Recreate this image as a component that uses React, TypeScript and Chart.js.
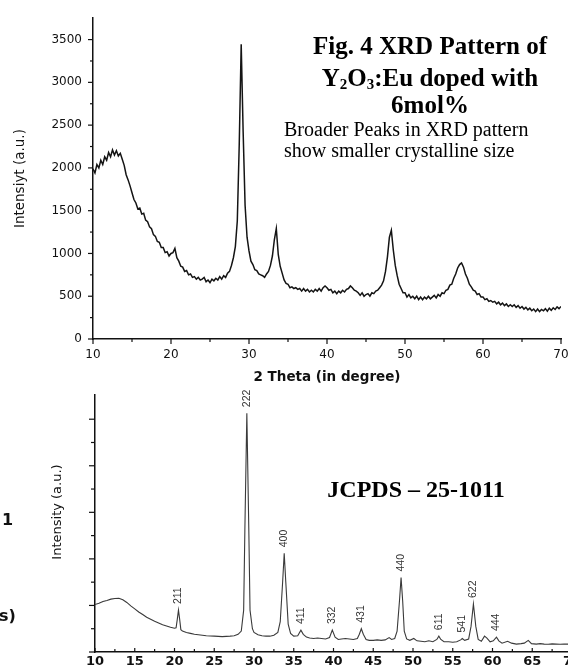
import { useEffect, useRef } from 'react';
import { Chart, registerables } from 'chart.js';
Chart.register(...registerables);

const SANS = '"DejaVu Sans", "Liberation Sans", sans-serif';
const SERIF = '"Liberation Serif", "Times New Roman", serif';
const ARIAL = '"Liberation Sans", Arial, sans-serif';

// ---------- Top chart: measured XRD pattern (Y2O3:Eu, 6 mol%) ----------
const topTheta = [
  10,10.25,10.5,10.75,11,11.25,11.5,11.75,12,12.25,12.5,12.75,13,13.25,13.5,13.75,14,14.25,14.5,14.75,
  15,15.25,15.5,15.75,16,16.25,16.5,16.75,17,17.25,17.5,17.75,18,18.25,18.5,18.75,19,19.25,19.5,19.75,
  20,20.25,20.5,20.75,21,21.25,21.5,21.75,22,22.25,22.5,22.75,23,23.25,23.5,23.75,24,24.25,24.5,24.75,
  25,25.25,25.5,25.75,26,26.25,26.5,26.75,27,27.25,27.5,27.75,28,28.25,28.5,28.75,29,29.25,29.5,29.75,
  30,30.25,30.5,30.75,31,31.25,31.5,31.75,32,32.25,32.5,32.75,33,33.25,33.5,33.75,34,34.25,34.5,34.75,
  35,35.25,35.5,35.75,36,36.25,36.5,36.75,37,37.25,37.5,37.75,38,38.25,38.5,38.75,39,39.25,39.5,39.75,
  40,40.25,40.5,40.75,41,41.25,41.5,41.75,42,42.25,42.5,42.75,43,43.25,43.5,43.75,44,44.25,44.5,44.75,
  45,45.25,45.5,45.75,46,46.25,46.5,46.75,47,47.25,47.5,47.75,48,48.25,48.5,48.75,49,49.25,49.5,49.75,
  50,50.25,50.5,50.75,51,51.25,51.5,51.75,52,52.25,52.5,52.75,53,53.25,53.5,53.75,54,54.25,54.5,54.75,
  55,55.25,55.5,55.75,56,56.25,56.5,56.75,57,57.25,57.5,57.75,58,58.25,58.5,58.75,59,59.25,59.5,59.75,
  60,60.25,60.5,60.75,61,61.25,61.5,61.75,62,62.25,62.5,62.75,63,63.25,63.5,63.75,64,64.25,64.5,64.75,
  65,65.25,65.5,65.75,66,66.25,66.5,66.75,67,67.25,67.5,67.75,68,68.25,68.5,68.75,69,69.25,69.5,69.75,
  70
];
const topIntensity = [
  1990,1940,2040,2000, 2090,2040,2130,2090, 2180,2130,2210,2150, 2200,2140,2170,2100, 2030,1920,1860,1790,
  1710,1630,1590,1520, 1530,1460,1470,1390, 1370,1310,1290,1220, 1200,1140,1130,1070, 1070,1010,1020,970,
  1000,1010,1060,950, 910,850,840,790, 800,750,760,720, 730,700,720,690, 700,720,670,690,
  660,700,680,710, 690,730,700,740, 720,770,790,860, 950,1080,1380,2280, 3445,2420,1560,1190,
  1030,910,870,810, 800,760,750,740, 720,760,790,860, 970,1160,1290,990, 850,770,690,650,
  640,600,610,590, 600,580,590,560, 590,560,580,550, 570,550,580,560, 590,560,600,620,
  600,570,580,540, 560,530,560,540, 570,550,580,590, 620,600,570,560, 540,510,540,500,
  520,530,500,540, 530,560,570,600, 630,680,790,960, 1190,1270,1040,860, 740,640,590,540,
  540,490,520,480, 500,470,500,460, 490,460,490,470, 500,470,490,510, 480,520,500,540,
  530,570,580,630, 640,710,760,830, 870,890,840,760, 710,640,610,570, 560,520,530,490,
  490,460,470,440, 450,430,440,410, 430,400,420,390, 410,380,400,380, 400,370,390,360,
  380,350,370,340, 360,330,350,320, 350,320,345,330, 355,325,360,335, 365,345,375,355,
  380
];
const topXTicks = [10, 20, 30, 40, 50, 60, 70];
const topXMinor = [15, 25, 35, 45, 55, 65];
const topYTicks = [0, 500, 1000, 1500, 2000, 2500, 3000, 3500];
const topYMinor = [250, 750, 1250, 1750, 2250, 2750, 3250];

// ---------- Bottom chart: JCPDS 25-1011 reference pattern ----------
const refTheta = [
  10,10.5,11,11.5,12,12.5,13,13.5,14,14.5,15,15.5,16,16.5,17,17.5,18,18.5,19,19.5,
  20,20.2,20.35,20.5,20.65,20.8,21,21.5,22,22.5,23,23.5,24,25,26,27,27.5,28,28.4,28.7,
  28.85,29.1,29.35,29.5,29.8,30,30.5,31,31.5,32,32.5,33,33.3,33.6,33.8,34,34.3,34.6,35,35.5,
  35.9,36.2,36.6,37,37.5,38,38.5,39,39.5,39.85,40.2,40.6,41,41.5,42,42.5,43,43.25,43.5,43.75,
  44.1,44.5,45,45.5,46,46.5,47,47.3,47.7,48,48.3,48.5,48.7,48.9,49.2,49.6,50.1,50.5,51,51.5,
  52,52.5,53,53.25,53.5,53.9,54.5,55,55.5,56,56.2,56.5,57,57.3,57.6,57.9,58.2,58.6,59,59.3,
  59.7,60.1,60.5,60.8,61.2,61.9,62.4,63,63.6,64,64.5,64.9,65.5,66,66.5,67,67.5,68,68.5,69,
  69.5,70
];
const refIntensity = [
  1020,1045,1085,1105,1135,1150,1155,1120,1065,990,925,860,805,745,705,660,625,585,560,530,
  510,520,700,900,700,480,450,420,400,380,370,360,350,340,330,340,350,380,450,900,
  2600,5130,2600,900,500,420,370,350,340,340,360,420,650,1500,2120,1500,600,400,340,350,
  470,380,320,300,290,300,290,280,310,470,320,270,280,290,280,270,290,380,500,380,
  270,250,250,260,250,260,310,270,290,450,1100,1600,1100,450,280,250,290,240,230,220,
  240,220,270,340,270,220,220,210,220,260,290,250,280,550,1030,550,270,230,340,300,
  220,240,320,240,190,230,190,170,180,190,250,180,170,180,170,165,175,170,165,170,
  170,175
];
const hklLabels = ['211', '222', '400', '411', '332', '431', '440', '611', '541', '622', '444'];
const hklTheta = [20.5, 29.1, 33.8, 35.9, 39.85, 43.5, 48.5, 53.25, 56.2, 57.6, 60.5];
const botXTicks = [10, 15, 20, 25, 30, 35, 40, 45, 50, 55, 60, 65, 70];
const botXMinor = [12.5, 17.5, 22.5, 27.5, 32.5, 37.5, 42.5, 47.5, 52.5, 57.5, 62.5, 67.5];
const botYMajor = [0, 1000, 2000, 3000, 4000, 5000];
const botYMinor = [500, 1500, 2500, 3500, 4500];

type TickCfg = { major: number[]; minor: number[]; majorLen: number; minorLen: number; dir: number };

function makeTickPlugin(id: string, xc: TickCfg, yc: TickCfg) {
  return {
    id,
    afterDraw(chart: any) {
      const ctx = chart.ctx;
      ctx.save();
      ctx.strokeStyle = '#111';
      ctx.lineWidth = 1.2;
      const xs = chart.scales.x;
      const ys = chart.scales.y;
      const drawX = (vals: number[], len: number) => vals.forEach((v) => {
        const p = xs.getPixelForValue(v);
        ctx.beginPath();
        ctx.moveTo(p, xs.top);
        ctx.lineTo(p, xs.top + xc.dir * len);
        ctx.stroke();
      });
      const drawY = (vals: number[], len: number) => vals.forEach((v) => {
        const p = ys.getPixelForValue(v);
        ctx.beginPath();
        ctx.moveTo(ys.right, p);
        ctx.lineTo(ys.right - yc.dir * len, p);
        ctx.stroke();
      });
      drawX(xc.major, xc.majorLen);
      drawX(xc.minor, xc.minorLen);
      drawY(yc.major, yc.majorLen);
      drawY(yc.minor, yc.minorLen);
      ctx.restore();
    },
  };
}

const topTextPlugin = {
  id: 'topText',
  afterDraw(chart: any) {
    const ctx = chart.ctx;
    ctx.save();
    ctx.fillStyle = '#000';
    ctx.textBaseline = 'alphabetic';
    const cx = 430;
    const big = `bold 25px ${SERIF}`;
    const sub = `bold 15px ${SERIF}`;
    ctx.font = big;
    ctx.textAlign = 'center';
    ctx.fillText('Fig. 4 XRD Pattern of', cx, 54);
    const segs = [
      { t: 'Y', f: big, dy: 0 },
      { t: '2', f: sub, dy: 3 },
      { t: 'O', f: big, dy: 0 },
      { t: '3', f: sub, dy: 3 },
      { t: ':Eu doped with', f: big, dy: 0 },
    ];
    let total = 0;
    segs.forEach((s) => { ctx.font = s.f; total += ctx.measureText(s.t).width; });
    let x = cx - total / 2;
    ctx.textAlign = 'left';
    segs.forEach((s) => {
      ctx.font = s.f;
      ctx.fillText(s.t, x, 86 + s.dy);
      x += ctx.measureText(s.t).width;
    });
    ctx.font = big;
    ctx.textAlign = 'center';
    ctx.fillText('6mol%', cx, 113);
    ctx.font = `20px ${SERIF}`;
    ctx.textAlign = 'left';
    ctx.fillText('Broader Peaks in XRD pattern', 284, 136);
    ctx.fillText('show smaller crystalline size', 284, 157);
    ctx.restore();
  },
};

const botTextPlugin = {
  id: 'botText',
  afterDraw(chart: any) {
    const ctx = chart.ctx;
    const xs = chart.scales.x;
    const ys = chart.scales.y;
    ctx.save();
    ctx.fillStyle = '#333';
    ctx.font = `10.5px ${ARIAL}`;
    ctx.textAlign = 'left';
    ctx.textBaseline = 'middle';
    hklLabels.forEach((lab, i) => {
      const t = hklTheta[i];
      let peak = 0;
      refTheta.forEach((th, j) => { if (Math.abs(th - t) <= 0.3 && refIntensity[j] > peak) peak = refIntensity[j]; });
      const px = xs.getPixelForValue(t);
      const py = ys.getPixelForValue(peak);
      ctx.save();
      ctx.translate(px, py);
      ctx.rotate(-Math.PI / 2);
      ctx.fillText(lab, 6, 0);
      ctx.restore();
    });
    ctx.fillStyle = '#000';
    ctx.font = `bold 24px ${SERIF}`;
    ctx.textAlign = 'center';
    ctx.textBaseline = 'alphabetic';
    ctx.fillText('JCPDS \u2013 25-1011', 416, 117);
    ctx.fillStyle = '#111';
    ctx.font = `13px ${SANS}`;
    ctx.save();
    ctx.translate(58, 132);
    ctx.rotate(-Math.PI / 2);
    ctx.textBaseline = 'middle';
    ctx.fillText('Intensity (a.u.)', 0, 0);
    ctx.restore();
    ctx.font = `bold 16px ${SANS}`;
    ctx.textAlign = 'left';
    ctx.fillText('1', 2, 145);
    ctx.fillText('s)', -1, 241);
    ctx.restore();
  },
};

export default function App() {
  const topRef = useRef<HTMLCanvasElement>(null);
  const botRef = useRef<HTMLCanvasElement>(null);

  useEffect(() => {
    const top = new Chart(topRef.current as HTMLCanvasElement, {
      type: 'line',
      data: {
        datasets: [{
          data: topTheta.map((x, i) => ({ x, y: topIntensity[i] })),
          borderColor: '#141414',
          borderWidth: 1.5,
          pointRadius: 0,
          tension: 0,
          fill: false,
        }],
      },
      options: {
        responsive: false,
        animation: false,
        events: [],
        layout: { padding: { left: 0, right: 19, top: 14, bottom: 0 } },
        plugins: { legend: { display: false }, tooltip: { enabled: false } },
        scales: {
          x: {
            type: 'linear',
            min: 10,
            max: 70,
            afterFit: (s: any) => { s.height = 51; },
            afterBuildTicks: (s: any) => { s.ticks = topXTicks.map((v) => ({ value: v })); },
            grid: { display: false, drawTicks: false },
            border: { display: true, color: '#111', width: 1.5 },
            ticks: {
              autoSkip: false, maxRotation: 0, padding: 9, color: '#111',
              font: { family: SANS, size: 12 },
              callback: (v: any) => String(v),
            },
            title: {
              display: true, text: '2 Theta (in degree)', color: '#111',
              font: { family: SANS, size: 13.5, weight: 'bold' }, padding: { top: 0, bottom: 4 },
            },
          },
          y: {
            type: 'linear',
            min: 0,
            max: 3750,
            afterFit: (s: any) => { s.width = 93; },
            afterBuildTicks: (s: any) => { s.ticks = topYTicks.map((v) => ({ value: v })); },
            grid: { display: false, drawTicks: false },
            border: { display: true, color: '#111', width: 1.5 },
            ticks: {
              autoSkip: false, padding: 11, color: '#111',
              font: { family: SANS, size: 12 },
              callback: (v: any) => String(v),
            },
            title: {
              display: true, text: 'Intensiyt (a.u.)', color: '#111',
              font: { family: SANS, size: 13.5 }, padding: { top: 12, bottom: 0 },
            },
          },
        },
      },
      plugins: [
        makeTickPlugin('topTicks',
          { major: topXTicks, minor: topXMinor, majorLen: 5, minorLen: 3, dir: 1 },
          { major: topYTicks, minor: topYMinor, majorLen: 5, minorLen: 3, dir: 1 }),
        topTextPlugin,
      ],
    } as any);

    const bot = new Chart(botRef.current as HTMLCanvasElement, {
      type: 'line',
      data: {
        datasets: [{
          data: refTheta.map((x, i) => ({ x, y: refIntensity[i] })),
          borderColor: '#3a3a3a',
          borderWidth: 1.1,
          pointRadius: 0,
          tension: 0,
          fill: false,
        }],
      },
      options: {
        responsive: false,
        animation: false,
        events: [],
        layout: { padding: { left: 0, right: 18, top: 15, bottom: 0 } },
        plugins: { legend: { display: false }, tooltip: { enabled: false } },
        scales: {
          x: {
            type: 'linear',
            min: 10,
            max: 70,
            afterFit: (s: any) => { s.height = 18; },
            afterBuildTicks: (s: any) => { s.ticks = botXTicks.map((v) => ({ value: v })); },
            grid: { display: false, drawTicks: false },
            border: { display: true, color: '#111', width: 1.5 },
            ticks: {
              autoSkip: false, maxRotation: 0, padding: 2, color: '#111',
              font: { family: SANS, size: 13, weight: 'bold' },
              callback: (v: any) => String(v),
            },
          },
          y: {
            type: 'linear',
            min: 0,
            max: 5520,
            afterFit: (s: any) => { s.width = 95; },
            afterBuildTicks: (s: any) => { s.ticks = botYMajor.map((v) => ({ value: v })); },
            grid: { display: false, drawTicks: false },
            border: { display: true, color: '#111', width: 1.5 },
            ticks: { display: false },
          },
        },
      },
      plugins: [
        makeTickPlugin('botTicks',
          { major: botXTicks, minor: botXMinor, majorLen: 4, minorLen: 3, dir: -1 },
          { major: botYMajor, minor: botYMinor, majorLen: 6, minorLen: 4, dir: 1 }),
        botTextPlugin,
      ],
    } as any);

    return () => {
      top.destroy();
      bot.destroy();
    };
  }, []);

  return (
    <div style={{ position: 'fixed', left: 0, top: 0, width: 568, height: 670, overflow: 'hidden', background: '#fff' }}>
      <canvas ref={topRef} width={580} height={390}
        style={{ position: 'absolute', left: 0, top: 0, width: 580, height: 390 }} />
      <canvas ref={botRef} width={590} height={290}
        style={{ position: 'absolute', left: 0, top: 380, width: 590, height: 290 }} />
    </div>
  );
}
